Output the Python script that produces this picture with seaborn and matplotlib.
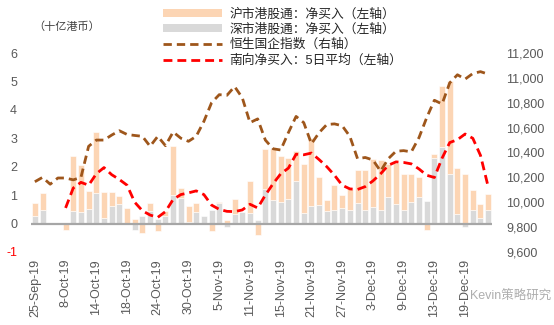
import numpy as np
import pandas as pd
import matplotlib
matplotlib.use("Agg")
import matplotlib.pyplot as plt
from matplotlib.patches import Patch
from matplotlib.lines import Line2D
import seaborn as sns

# ---------------- data ----------------
dates = ["25-Sep-19", "26-Sep-19", "27-Sep-19", "30-Sep-19", "8-Oct-19", "9-Oct-19",
         "10-Oct-19", "11-Oct-19", "14-Oct-19", "15-Oct-19", "16-Oct-19", "17-Oct-19",
         "18-Oct-19", "21-Oct-19", "22-Oct-19", "23-Oct-19", "24-Oct-19", "25-Oct-19",
         "28-Oct-19", "29-Oct-19", "30-Oct-19", "31-Oct-19", "1-Nov-19", "4-Nov-19",
         "5-Nov-19", "6-Nov-19", "7-Nov-19", "8-Nov-19", "11-Nov-19", "12-Nov-19",
         "13-Nov-19", "14-Nov-19", "15-Nov-19", "18-Nov-19", "19-Nov-19", "20-Nov-19",
         "21-Nov-19", "22-Nov-19", "25-Nov-19", "26-Nov-19", "27-Nov-19", "28-Nov-19",
         "29-Nov-19", "2-Dec-19", "3-Dec-19", "4-Dec-19", "5-Dec-19", "6-Dec-19",
         "9-Dec-19", "10-Dec-19", "11-Dec-19", "12-Dec-19", "13-Dec-19", "16-Dec-19",
         "17-Dec-19", "18-Dec-19", "19-Dec-19", "20-Dec-19", "23-Dec-19", "24-Dec-19"]

# 沪市港股通净买入 (十亿港币)
sh_net = [0.47, 0.57, 0.0, 0.0, -0.21, 1.96, 1.66, 0.63, 2.14, 0.89,
          0.48, 0.30, 0.51, 0.17, -0.34, 0.28, -0.26, 0.17, 1.71, 0.37,
          0.57, 0.33, 0.0, -0.25, 0.02, 0.14, 0.51, -0.03, 1.10, -0.41,
          1.40, 1.77, 1.61, 1.41, 1.08, 1.74, 2.40, 1.00, 0.39, 0.86,
          0.47, 0.71, 1.16, 1.44, 1.70, 1.76, 1.19, 1.44, 1.27, 1.01,
          0.71, -0.21, 0.14, 2.15, 3.26, 1.59, 1.74, 0.68, 0.47, 0.54]

# 深市港股通净买入 (十亿港币)
sz_net = [0.26, 0.49, 0.0, 0.0, 0.0, 0.43, 0.40, 0.50, 1.09, 0.21,
          0.63, 0.68, 0.03, -0.23, 0.26, 0.45, 0.17, 0.26, 1.02, 0.89,
          0.04, 0.41, 0.26, 0.48, 0.74, -0.11, 0.34, 0.42, 0.38, 0.14,
          1.21, 0.84, 0.76, 0.88, 1.49, 0.37, 0.61, 0.64, 0.43, 0.49,
          0.55, 0.49, 0.74, 0.46, 0.57, 0.49, 0.92, 0.70, 0.49, 0.75,
          0.92, 0.81, 2.32, 2.68, 1.76, 0.35, -0.11, 0.49, 0.21, 0.49]

# 恒生国企指数 (右轴)
hscei = [10165, 10200, 10145, 10195, 10195, 10180, 10200, 10450, 10500, 10500,
         10540, 10575, 10545, 10537, 10530, 10450, 10530, 10455, 10565, 10515,
         10490, 10530, 10650, 10800, 10865, 10860, 10930, 10840, 10640, 10670,
         10500, 10430, 10420, 10560, 10690, 10640, 10470, 10560, 10625, 10630,
         10615, 10530, 10350, 10360, 10340, 10250, 10350, 10410, 10415, 10405,
         10520, 10680, 10820, 10790, 10960, 11025, 10990, 11035, 11050, 11030]

# 南向净买入：5日平均 (左轴)
ma5 = [np.nan, np.nan, np.nan, np.nan, 0.55, 1.25, 1.45, 1.35, 1.75, 1.97,
       1.72, 1.55, 1.35, 0.75, 0.45, 0.30, 0.22, 0.42, 0.85, 1.02,
       1.08, 1.15, 1.02, 0.65, 0.50, 0.43, 0.42, 0.48, 0.68, 0.55,
       1.00, 1.40, 1.75, 1.95, 2.44, 2.42, 2.48, 2.25, 2.00, 1.70,
       1.35, 1.22, 1.20, 1.30, 1.50, 1.75, 2.05, 2.17, 2.15, 2.10,
       1.92, 1.70, 1.62, 2.30, 2.85, 2.95, 3.15, 3.00, 2.40, 1.30]

left_ticks = [-1, 0, 1, 2, 3, 4, 5, 6]
right_ticks = [9600, 9800, 10000, 10200, 10400, 10600, 10800, 11000, 11200]

labels = ["沪市港股通：净买入（左轴）", "深市港股通：净买入（左轴）",
          "恒生国企指数（右轴）", "南向净买入：5日平均（左轴）"]
unit_label = "（十亿港币）"
watermark = "Kevin策略研究"

# ---------------- styling ----------------
ORANGE = "#FCD5B4"
GREY = "#D9D9D9"
BROWN = "#9E561B"
RED = "#FF0000"
TXT = "#595959"

sns.set_theme(style="white")
plt.rcParams["font.family"] = ["Liberation Sans", "Noto Sans CJK SC", "DejaVu Sans"]

df = pd.DataFrame({"date": dates, "sh": sh_net, "sz": sz_net,
                   "hscei": hscei, "ma5": ma5})
df["pos"] = np.arange(len(df))
same_sign = np.sign(df["sh"]) == np.sign(df["sz"])
df["sh_bottom"] = np.where(same_sign, df["sz"], 0.0)

fig = plt.figure(figsize=(5.54, 3.25), dpi=100)
ax = fig.add_axes([31 / 554, 73 / 325, 461 / 554, 199 / 325])

bar_w = 0.78
sns.barplot(x=df["pos"], y=df["sz"], native_scale=True, width=bar_w, color=GREY,
            saturation=1, edgecolor="white", linewidth=0.4, ax=ax, zorder=2)
sns.barplot(x=df["pos"], y=df["sh"], native_scale=True, width=bar_w, color=ORANGE,
            saturation=1, edgecolor="white", linewidth=0.4, bottom=df["sh_bottom"].values,
            ax=ax, zorder=2)

ax.axhline(0, color="#A6A6A6", lw=1.6, zorder=3)

sns.lineplot(x=df["pos"], y=df["ma5"], ax=ax, color=RED, lw=2.0,
             linestyle=(0, (3.2, 1.8)), estimator=None, zorder=5)

ax2 = ax.twinx()
sns.lineplot(x=df["pos"], y=df["hscei"], ax=ax2, color=BROWN, lw=2.0,
             linestyle=(0, (3.0, 1.8)), estimator=None, zorder=4)

ax.set_xlim(-0.5, len(df) - 0.5)
ax.set_ylim(-1, 6)
ax2.set_ylim(9600, 11200)

ax.set_xticks(df["pos"].values[::4])
ax.set_xticklabels(df["date"].values[::4], rotation=90, fontsize=9, color=TXT)
ax.set_yticks(left_ticks)
ax.set_yticklabels([str(v) for v in left_ticks], fontsize=9, color=TXT)
for lab, v in zip(ax.get_yticklabels(), left_ticks):
    if v < 0:
        lab.set_color(RED)
ax2.set_yticks(right_ticks)
ax2.set_yticklabels([f"{v:,}" for v in right_ticks], fontsize=9, color=TXT)

ax.tick_params(axis="y", length=0, pad=10)
ax.tick_params(axis="x", length=0, pad=5)
ax2.tick_params(axis="y", length=0, pad=10)
for a in (ax, ax2):
    for s in a.spines.values():
        s.set_visible(False)
    a.set_xlabel("")
    a.set_ylabel("")
    a.grid(False)
ax.set_facecolor("none")
ax2.set_facecolor("none")

fig.text(33 / 554, 1 - 27 / 325, unit_label, fontsize=8, color="#404040",
         ha="left", va="center")

handles = [Patch(facecolor=ORANGE, edgecolor="none"),
           Patch(facecolor=GREY, edgecolor="none"),
           Line2D([], [], color=BROWN, lw=2.0, linestyle=(0, (3.0, 1.8))),
           Line2D([], [], color=RED, lw=2.0, linestyle=(0, (3.2, 1.8)))]
fig.legend(handles, labels, loc="upper left", bbox_to_anchor=(163 / 554, 1 - 8 / 325),
           frameon=False, fontsize=9.2, handlelength=4.6, handleheight=0.55,
           handletextpad=0.6, labelspacing=0.25, borderpad=0, borderaxespad=0,
           labelcolor="#262626")

fig.text(551 / 554, 1 - 297 / 325, watermark, fontsize=9, color="#9A9A9A",
         alpha=0.8, ha="right", va="center")

fig.savefig("out.png", dpi=100)
